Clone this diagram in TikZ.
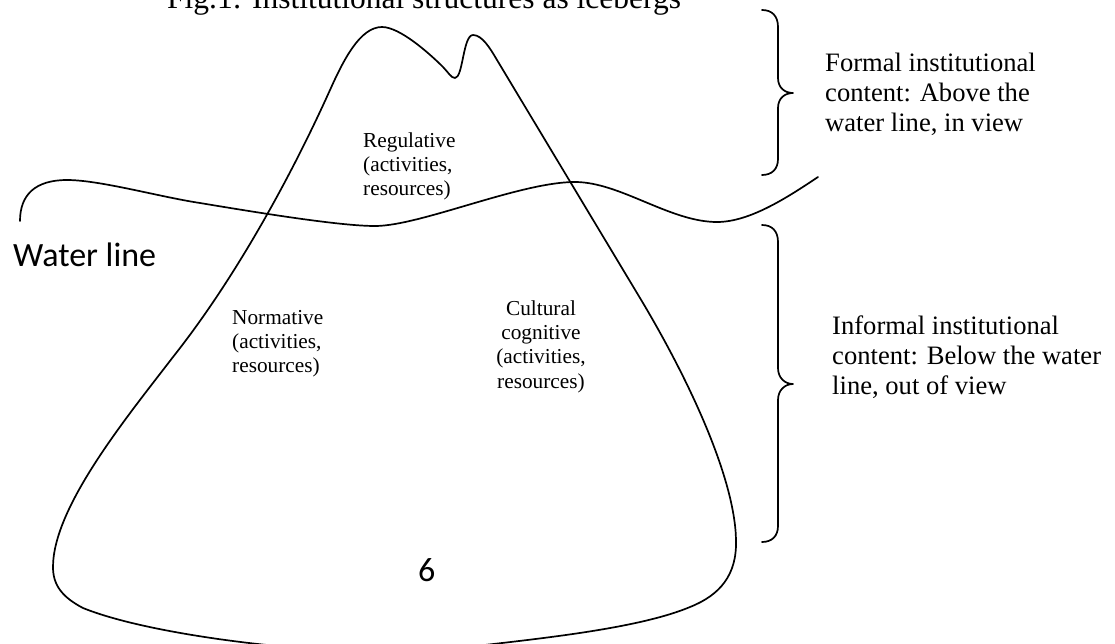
\documentclass[tikz,border=0pt]{standalone}
\usepackage{fontspec}
\setmainfont{Liberation Serif}
\newfontfamily\calibfont{Carlito}
\begin{document}
\begin{tikzpicture}[x=1pt,y=-1pt,
  outline/.style={line width=1.7pt, line join=round, line cap=round},
  bigtext/.style={font=\fontsize{26.6}{30}\selectfont, inner sep=0pt, align=left, anchor=north west},
  smalltext/.style={font=\fontsize{21.3}{24.3}\selectfont, inner sep=0pt, anchor=north west, align=left},
  sanslabel/.style={font=\calibfont\fontsize{34}{40}\selectfont, inner sep=0pt, anchor=base west}]
\useasboundingbox (0,0) rectangle (1115,643);

% iceberg
\draw[outline] (53,567) .. controls (53,507) and (127,417) .. (173,357)
 .. controls (238,275) and (294,170) .. (330,90)
 .. controls (343.5,60) and (360,27) .. (382,27)
 .. controls (400,27) and (430,54) .. (443,67)
 .. controls (448,72) and (451,78) .. (455,78)
 .. controls (463,78) and (463,35) .. (473,35)
 .. controls (482,35) and (490,48) .. (497,60)
 -- (640,298)
 .. controls (691,383) and (735,480) .. (736,540)
 .. controls (737,575) and (720,595) .. (690,607)
 .. controls (640,628) and (545,638) .. (476,646)
 .. controls (420,660) and (330,662) .. (267,645)
 .. controls (200,638) and (125,625) .. (83,608)
 .. controls (62,597) and (53,585) .. cycle;

% water line
\draw[outline] (20,221) .. controls (20,195) and (35,180) .. (67,180)
 .. controls (100,180) and (160,197) .. (200,203)
 .. controls (260,213) and (340,226) .. (375,226)
 .. controls (420,226) and (520,182) .. (575,182)
 .. controls (620,182) and (670,222) .. (717,222)
 .. controls (750,222) and (788,197) .. (818,177);

% braces
\draw[outline] (762,10) .. controls (772,10) and (778,16) .. (778,27) -- (778,78)
 .. controls (778,88) and (785,93) .. (793,93)
 .. controls (785,93) and (778,98) .. (778,108) -- (778,159)
 .. controls (778,169) and (772,175) .. (762,175);
\draw[outline] (762,225) .. controls (772,225) and (778,231) .. (778,242) -- (778,368)
 .. controls (778,378) and (785,384) .. (793,384)
 .. controls (785,384) and (778,390) .. (778,400) -- (778,526)
 .. controls (778,536) and (772,542) .. (762,542);

% texts
\node[anchor=base west, inner sep=0pt, font=\fontsize{31.5}{36}\selectfont] (title) at (167,8) {Fig.1: Institutional structures as icebergs};
\node[bigtext] (formal) at (825,51) {\rule{0pt}{20pt}Formal institutional\\content: Above the\\water line, in view};
\node[bigtext] (informal) at (832,314) {\rule{0pt}{20pt}Informal institutional\\content: Below the water\\line, out of view};
\node[smalltext] (regul) at (363,130) {\rule{0pt}{17pt}Regulative\\(activities,\\resources)};
\node[smalltext] (norm) at (232,307) {\rule{0pt}{17pt}Normative\\(activities,\\resources)};
\node[smalltext, anchor=north, align=center] (cult) at (541,298) {\rule{0pt}{17pt}Cultural\\cognitive\\(activities,\\resources)};
\node[sanslabel] (water) at (13,266) {Water line};
\node[sanslabel] (pagenum) at (418,581) {6};
\end{tikzpicture}
\end{document}
